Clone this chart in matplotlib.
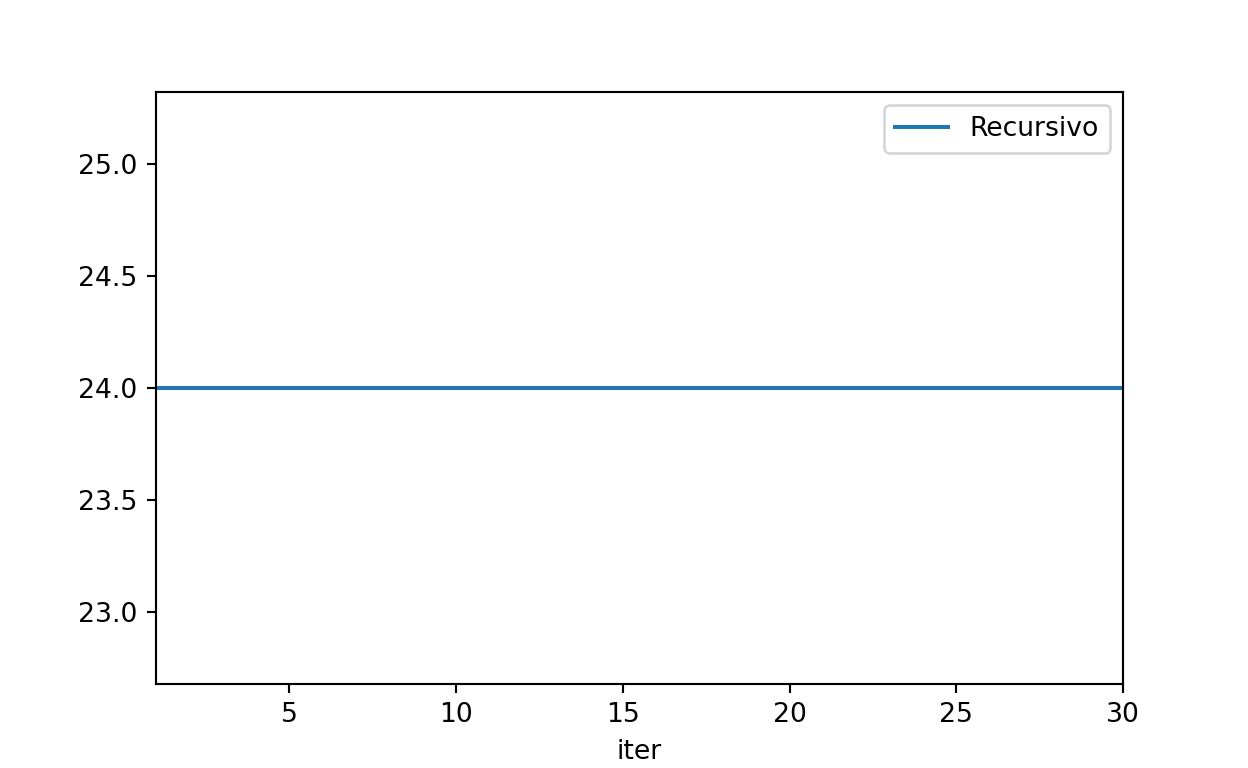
import matplotlib
matplotlib.use("Agg")
import matplotlib.pyplot as plt

iters = [1, 2, 3, 4, 5, 6, 7, 8, 9, 10,
         11, 12, 13, 14, 15, 16, 17, 18, 19, 20,
         21, 22, 23, 24, 25, 26, 27, 28, 29, 30]
recursivo = [24, 24, 24, 24, 24, 24, 24, 24, 24, 24,
             24, 24, 24, 24, 24, 24, 24, 24, 24, 24,
             24, 24, 24, 24, 24, 24, 24, 24, 24, 24]

plt.figure(figsize=(6.5, 4))
plt.plot(iters, recursivo, label='Recursivo')
plt.xlim(iters[0], iters[-1])
plt.xlabel('iter')
plt.legend()
plt.savefig('out.png', dpi=192)
